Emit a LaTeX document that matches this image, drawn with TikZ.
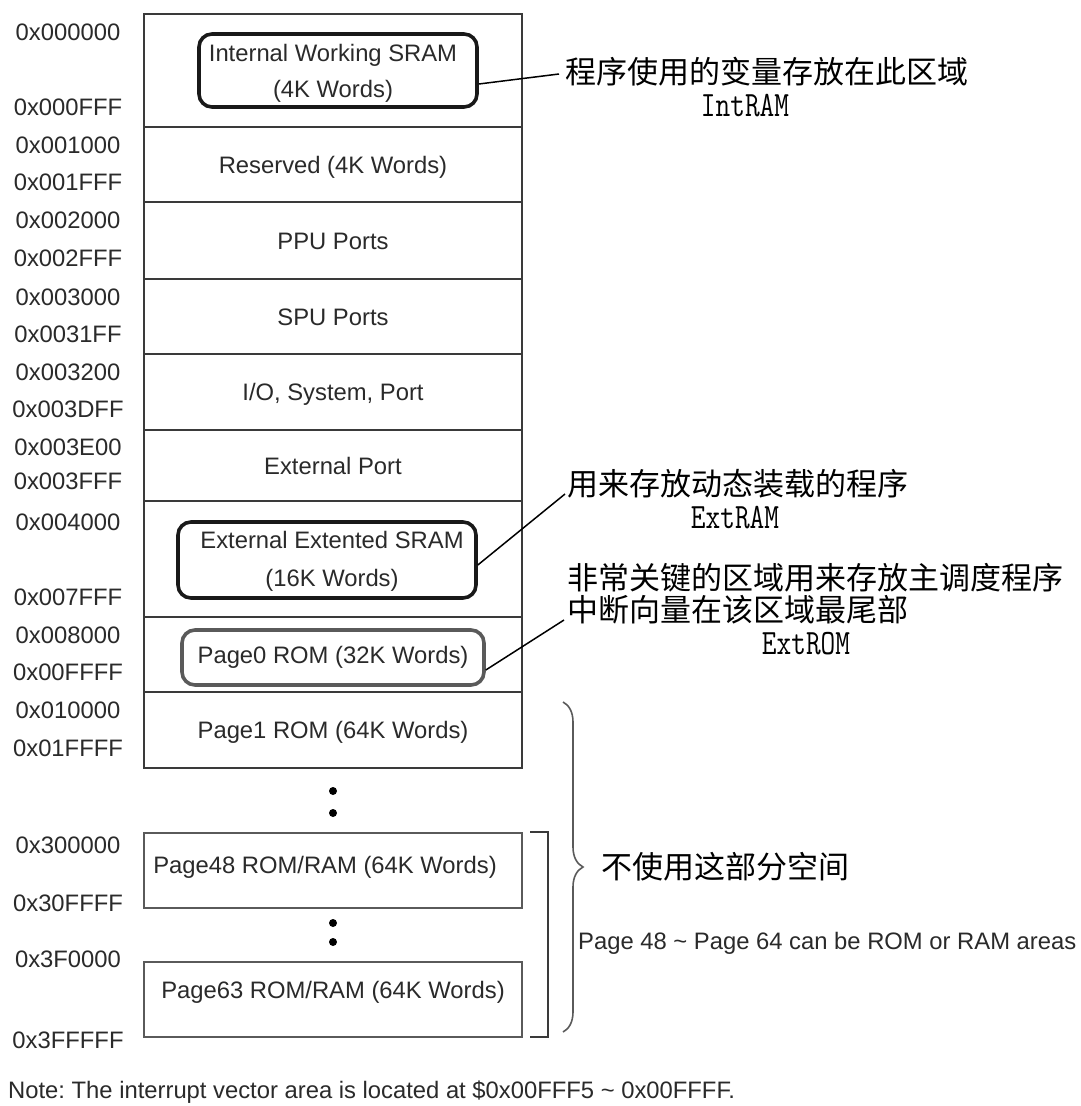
\documentclass[tikz,border=0pt]{standalone}
\usepackage{fontspec}
\usepackage{graphicx}
\setmainfont{Liberation Sans}
\newfontfamily\zhfont{Noto Sans CJK SC}
\usetikzlibrary{decorations.pathreplacing}
\frenchspacing

\definecolor{edge}{HTML}{3A3A3A}
\definecolor{ink}{HTML}{2A2A2A}
\definecolor{pagegray}{HTML}{5A5A5A}

\newcommand\addrfont{\fontsize{23.8pt}{28pt}\selectfont}
\newcommand\zhtext{\zhfont\fontsize{31pt}{34pt}\selectfont}
\newcommand\monotag[1]{{\ttfamily\fontsize{28.5pt}{30pt}\selectfont\scalebox{1}[1.25]{#1}}}

\begin{document}
\begin{tikzpicture}[x=1pt, y=-1pt,
  region/.style={draw=edge, line width=1.4pt, minimum width=378pt, minimum height=#1,
    inner sep=0pt, font=\addrfont, text=ink, text height=17pt, text depth=0pt},
  pagebox/.style={draw=pagegray, line width=1.8pt, minimum width=378pt, minimum height=#1, inner sep=0pt},
  addr/.style={font=\addrfont, text=ink, inner sep=0pt, text height=17pt, text depth=0pt},
  boxtext/.style={font=\addrfont, text=ink, inner sep=0pt, text height=17pt, text depth=0pt},
  memo/.style={draw=black!90, line width=3.6pt, rounded corners=13pt, inner sep=0pt},
  memogray/.style={draw=pagegray, line width=3.6pt, rounded corners=13pt, inner sep=0pt},
  callout/.style={font=\zhtext, text=black, inner sep=0pt, text height=23.6pt, text depth=0pt, anchor=west},
  tag/.style={inner sep=0pt, text=black, text height=21.8pt, text depth=0pt},
  leader/.style={draw=black, line width=1.5pt},
  dot/.style={circle, fill=black, inner sep=0pt, minimum size=8pt},
  note/.style={font=\addrfont, text=ink, inner sep=0pt, text height=17pt, text depth=0pt, anchor=west}
]
% canvas
\fill[white] (0,0) rectangle (1081,1106);
\useasboundingbox (0,0) rectangle (1081,1106);

% memory map rows
\node[region=113pt] (r1) at (333,70.5) {};
\node[region=75pt]  (r2) at (333,164.5) {Reserved (4K Words)};
\node[region=77pt]  (r3) at (333,240.5) {PPU Ports};
\node[region=75pt]  (r4) at (333,316.5) {SPU Ports};
\node[region=76pt]  (r5) at (333,392) {I/O, System, Port};
\node[region=71pt]  (r6) at (333,465.5) {External Port};
\node[region=116pt] (r7) at (333,559) {};
\node[region=75pt]  (r8) at (333,654.5) {};
\node[region=76pt]  (r9) at (333,730) {Page1 ROM (64K Words)};

% highlighted areas
\node[memo, minimum width=278pt, minimum height=73pt] (intram) at (338,70.5) {};
\node[boxtext] (int1) at (333,53) {Internal Working SRAM};
\node[boxtext] (int2) at (333,89) {(4K Words)};

\node[memo, minimum width=298pt, minimum height=76pt] (extram) at (327,560) {};
\node[boxtext] (ext1) at (332,540) {External Extented SRAM};
\node[boxtext] (ext2) at (332,578) {(16K Words)};

\node[memogray, minimum width=302pt, minimum height=55pt] (extrom) at (333,657.5) {};
\node[boxtext] (rom0) at (333,655) {Page0 ROM (32K Words)};

% upper pages
\node[dot] (d1) at (333,791) {};
\node[dot] (d2) at (333,813) {};
\node[pagebox=75pt] (p48) at (333,870.5) {};
\node[boxtext] (p48t) at (325,865) {Page48 ROM/RAM (64K Words)};
\node[dot] (d3) at (333,923) {};
\node[dot] (d4) at (333,942) {};
\node[pagebox=75pt] (p63) at (333,999.5) {};
\node[boxtext] (p63t) at (333,990) {Page63 ROM/RAM (64K Words)};

% addresses
\foreach \txt/\yy in {0x000000/32, 0x000FFF/107, 0x001000/145, 0x001FFF/182,
  0x002000/220, 0x002FFF/258, 0x003000/297, 0x0031FF/334, 0x003200/372,
  0x003DFF/409, 0x003E00/447, 0x003FFF/481, 0x004000/522, 0x007FFF/597,
  0x008000/635, 0x00FFFF/672, 0x010000/710, 0x01FFFF/748, 0x300000/845,
  0x30FFFF/903, 0x3F0000/959, 0x3FFFFF/1040}
  \node[addr] (a\txt) at (68,\yy) {\txt};

% callouts
\node[callout] (c1) at (565,72) {程序使用的变量存放在此区域};
\node[tag] (t1) at (745,106) {\monotag{IntRAM}};
\node[callout] (c2) at (567,484) {用来存放动态装载的程序};
\node[tag] (t2) at (735,518) {\monotag{ExtRAM}};
\node[callout] (c3a) at (567,578) {非常关键的区域用来存放主调度程序};
\node[callout] (c3b) at (567,610) {中断向量在该区域最尾部};
\node[tag] (t3) at (806,644) {\monotag{ExtROM}};

\draw[leader] ([yshift=-13.5pt]intram.east) -- ([xshift=-6pt,yshift=-2pt]c1.west);
\draw[leader] ([yshift=-5pt]extram.east) -- ([xshift=-2pt,yshift=-10pt]c2.west);
\draw[leader] ([yshift=-12.5pt]extrom.east) -- ([xshift=-3pt,yshift=-10pt]c3b.west);

% unused range
\draw[draw=edge, line width=1.8pt] (530,832) -- (548,832) -- (548,1037) -- (530,1037);
\draw[draw=pagegray, line width=1.6pt, decorate, decoration={brace, amplitude=20pt}]
  (563,702) -- (563,1032);
\node[callout] (unused) at (601,867) {不使用这部分空间};
\node[note] (pages) at (578,941) {Page 48 \textasciitilde{} Page 64 can be ROM or RAM areas};

% footnote
\node[note] (fn) at (8,1090) {Note: The interrupt vector area is located at \$0x00FFF5 \textasciitilde{} 0x00FFFF.};
\end{tikzpicture}
\end{document}
